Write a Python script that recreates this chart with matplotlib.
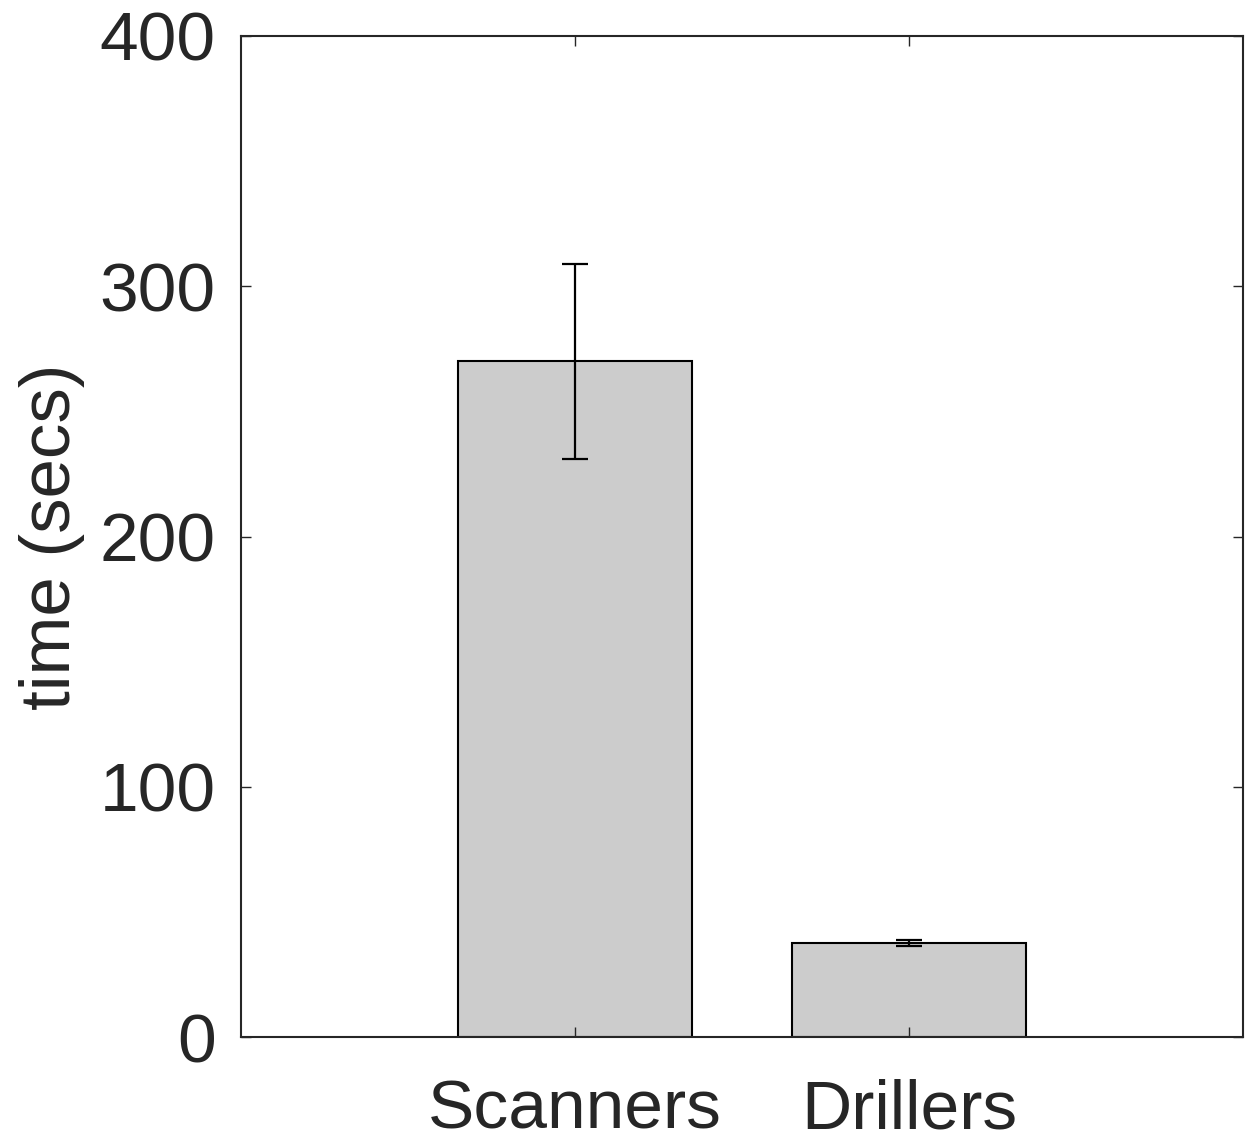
import numpy as np
import matplotlib
matplotlib.use("Agg")
import matplotlib.pyplot as plt

groups = ["Scanners", "Drillers"]
mean_time = [270, 37.6]
err_time = [39, 1.3]

plt.rcParams['font.family'] = ['Liberation Sans', 'DejaVu Sans']

fig = plt.figure(figsize=(12.53, 11.42), dpi=100)
ax = fig.add_axes([0.1923, 0.0919, 0.8, 0.8766])

x = np.arange(1, len(groups) + 1)
ax.bar(x, mean_time, width=0.7, color="#cccccc", edgecolor="black", linewidth=1.5)
ax.errorbar(x, mean_time, yerr=err_time, fmt="none", ecolor="black",
            elinewidth=1.6, capsize=9.5, capthick=1.6)

ax.set_xlim(0, 3)
ax.set_ylim(0, 400)
ax.set_xticks(x)
ax.set_xticklabels(groups)
ax.set_yticks([0, 100, 200, 300, 400])
ax.tick_params(direction="in", length=7, width=1, top=True, right=True,
               labelsize=50, colors="#262626", labelcolor="#262626")
ax.tick_params(axis="y", pad=18)
ax.tick_params(axis="x", pad=30)
for s in ax.spines.values():
    s.set_linewidth(1.5)
    s.set_color("#262626")
ax.set_ylabel("time (secs)", fontsize=51, color="#262626", labelpad=11)

fig.savefig("out.png", dpi=100)
